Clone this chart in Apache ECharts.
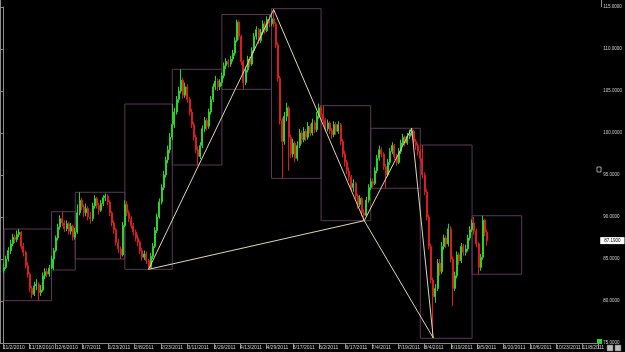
<!DOCTYPE html>
<html>
<head>
<meta charset="utf-8">
<title>Daily bars with XABCD pattern</title>
<script src="https://cdn.jsdelivr.net/npm/echarts/dist/echarts.min.js"></script>
<style>
  html, body { margin: 0; padding: 0; background: #000; }
  #chart { width: 625px; height: 352px; }
</style>
</head>
<body>
<div id="chart"></div>
<script>
// daily bars
const opens = [
  83.6, 84.0, 85.0, 86.0, 86.8, 87.6, 87.3, 87.9, 88.2, 86.5, 85.8, 84.2, 83.2, 81.5, 80.8,
  81.8, 82.0, 81.0, 81.3, 83.0, 83.5, 83.2, 83.9, 85.0, 86.0, 87.5, 88.8, 89.8, 89.3, 88.6,
  89.2, 88.3, 88.9, 87.6, 88.2, 90.5, 92.0, 91.2, 90.5, 91.0, 90.0, 89.8, 91.3, 92.2, 91.4,
  90.8, 91.6, 92.3, 92.5, 91.8, 90.5, 89.3, 88.5, 87.0, 86.2, 85.5, 89.0, 91.5, 90.5, 89.8,
  89.0, 88.2, 87.5, 87.0, 86.0, 85.2, 85.6, 84.8, 84.0, 85.3, 86.5, 88.4, 90.0, 91.8, 93.5,
  95.0, 96.8, 98.0, 99.5, 101.0, 102.5, 104.0, 105.0, 106.3, 104.5, 105.5, 104.0, 102.5, 101.0, 99.5,
  98.0, 97.2, 98.5, 100.5, 101.5, 100.8, 102.5, 104.0, 105.5, 106.2, 105.5, 106.0, 106.8, 108.0, 108.5,
  108.2, 108.8, 109.5, 111.0, 113.2, 111.5, 108.5, 106.0, 107.5, 108.8, 108.2, 109.8, 111.5, 112.3, 111.0,
  112.0, 113.0, 112.2, 113.5, 113.0, 113.6, 113.0, 110.5, 106.5, 101.5, 99.0, 102.0, 103.0, 99.5, 97.5,
  98.8, 97.0, 98.5, 100.0, 99.2, 100.2, 99.5, 100.8, 100.0, 101.2, 100.4, 102.0, 103.0, 102.2, 101.5,
  100.5, 101.2, 100.3, 99.8, 101.0, 100.2, 101.0, 99.0, 97.5, 96.5, 95.5, 94.8, 93.5, 94.0, 92.5,
  91.5, 92.2, 90.5, 90.2, 92.0, 93.5, 94.2, 94.0, 95.5, 97.0, 98.0, 97.5, 96.0, 95.0, 96.5,
  97.8, 98.5, 97.2, 96.5, 97.8, 98.8, 99.5, 98.8, 99.6, 100.0, 100.2, 99.0, 98.5, 97.8, 97.0,
  95.0, 93.0, 90.0, 86.5, 82.5, 80.5, 81.5, 84.5, 83.5, 86.5, 87.5, 86.8, 88.6, 85.0, 81.5,
  83.0, 85.5, 84.8, 86.5, 85.8, 86.2, 87.5, 88.5, 89.3, 88.3, 86.8, 84.0, 85.2, 89.6, 88.2
]
const closes = [
  84.0, 85.0, 86.0, 86.8, 87.6, 87.3, 87.9, 88.2, 86.5, 85.8, 84.2, 83.2, 81.5, 80.8, 81.8,
  82.0, 81.0, 81.3, 83.0, 83.5, 83.2, 83.9, 85.0, 86.0, 87.5, 88.8, 89.8, 89.3, 88.6, 89.2,
  88.3, 88.9, 87.6, 88.2, 90.5, 92.0, 91.2, 90.5, 91.0, 90.0, 89.8, 91.3, 92.2, 91.4, 90.8,
  91.6, 92.3, 92.5, 91.8, 90.5, 89.3, 88.5, 87.0, 86.2, 85.5, 89.0, 91.5, 90.5, 89.8, 89.0,
  88.2, 87.5, 87.0, 86.0, 85.2, 85.6, 84.8, 84.0, 85.3, 86.5, 88.4, 90.0, 91.8, 93.5, 95.0,
  96.8, 98.0, 99.5, 101.0, 102.5, 104.0, 105.0, 106.3, 104.5, 105.5, 104.0, 102.5, 101.0, 99.5, 98.0,
  97.2, 98.5, 100.5, 101.5, 100.8, 102.5, 104.0, 105.5, 106.2, 105.5, 106.0, 106.8, 108.0, 108.5, 108.2,
  108.8, 109.5, 111.0, 113.2, 111.5, 108.5, 106.0, 107.5, 108.8, 108.2, 109.8, 111.5, 112.3, 111.0, 112.0,
  113.0, 112.2, 113.5, 113.0, 113.6, 113.0, 110.5, 106.5, 101.5, 99.0, 102.0, 103.0, 99.5, 97.5, 98.8,
  97.0, 98.5, 100.0, 99.2, 100.2, 99.5, 100.8, 100.0, 101.2, 100.4, 102.0, 103.0, 102.2, 101.5, 100.5,
  101.2, 100.3, 99.8, 101.0, 100.2, 101.0, 99.0, 97.5, 96.5, 95.5, 94.8, 93.5, 94.0, 92.5, 91.5,
  92.2, 90.5, 90.2, 92.0, 93.5, 94.2, 94.0, 95.5, 97.0, 98.0, 97.5, 96.0, 95.0, 96.5, 97.8,
  98.5, 97.2, 96.5, 97.8, 98.8, 99.5, 98.8, 99.6, 100.0, 100.2, 99.0, 98.5, 97.8, 97.0, 95.0,
  93.0, 90.0, 86.5, 82.5, 80.5, 81.5, 84.5, 83.5, 86.5, 87.5, 86.8, 88.6, 85.0, 81.5, 83.0,
  85.5, 84.8, 86.5, 85.8, 86.2, 87.5, 88.5, 89.3, 88.3, 86.8, 84.0, 85.2, 89.6, 88.2, 87.19
]
const lows = [
  83.3, 83.8, 84.7, 85.6, 86.5, 86.9, 87.0, 87.6, 86.2, 85.3, 83.9, 82.8, 81.1, 80.3, 80.6,
  81.3, 80.04, 80.6, 81.1, 82.6, 82.8, 82.9, 83.8, 83.69, 85.8, 87.2, 88.5, 88.9, 88.2, 88.3,
  87.9, 87.9, 87.2, 87.3, 88.0, 90.2, 90.8, 90.0, 90.1, 89.6, 89.2, 89.5, 91.0, 91.0, 90.3,
  90.6, 91.3, 91.9, 91.4, 90.1, 88.9, 88.0, 86.6, 85.7, 85.0, 85.3, 88.8, 90.1, 89.4, 88.6,
  87.8, 87.1, 86.5, 85.6, 84.8, 84.9, 84.4, 83.77, 83.9, 85.0, 86.3, 88.1, 89.8, 91.5, 93.2,
  94.7, 96.4, 97.6, 99.2, 100.6, 102.2, 103.6, 104.7, 104.1, 104.2, 103.6, 102.1, 100.6, 99.1, 97.6,
  96.19, 96.9, 98.2, 100.1, 100.3, 100.5, 102.2, 103.7, 105.1, 105.0, 105.1, 105.6, 106.5, 107.6, 107.8,
  107.9, 108.5, 109.2, 110.8, 111.1, 108.1, 105.2, 105.7, 107.2, 107.8, 108.0, 109.5, 111.1, 110.6, 110.7,
  111.7, 111.8, 112.0, 112.6, 112.7, 112.6, 110.1, 106.1, 101.0, 94.6, 98.6, 101.4, 95.5, 97.0, 97.1,
  96.5, 96.7, 98.2, 98.7, 98.9, 99.0, 99.2, 99.6, 99.7, 100.0, 100.1, 101.7, 101.8, 101.1, 100.1,
  100.2, 99.9, 99.3, 99.5, 99.8, 99.9, 98.6, 97.1, 96.0, 95.1, 94.3, 93.1, 93.0, 92.1, 91.0,
  91.2, 90.1, 89.56, 90.0, 91.7, 93.2, 93.5, 93.8, 95.2, 96.7, 97.1, 95.6, 93.42, 94.8, 96.2,
  97.5, 96.8, 96.1, 96.3, 97.5, 98.5, 98.4, 98.6, 99.3, 99.7, 98.7, 98.0, 97.3, 96.6, 94.6,
  92.6, 89.6, 86.1, 82.1, 75.6, 79.8, 81.2, 83.0, 83.2, 86.1, 86.3, 86.5, 84.6, 79.4, 81.2,
  82.7, 84.3, 84.5, 85.4, 85.4, 85.9, 87.2, 88.2, 87.9, 86.4, 83.18, 83.6, 84.9, 87.7, 86.6
]
const highs = [
  84.5, 85.4, 86.4, 87.3, 88.0, 87.9, 88.4, 88.57, 88.3, 86.9, 86.0, 84.6, 83.4, 81.8, 82.3,
  82.6, 82.2, 81.9, 83.4, 83.9, 83.9, 84.3, 85.4, 86.3, 87.8, 89.2, 90.2, 90.63, 89.6, 89.6,
  89.4, 89.3, 89.1, 88.7, 91.5, 92.94, 92.3, 91.5, 91.6, 91.3, 90.6, 91.7, 92.6, 92.4, 91.7,
  92.0, 92.6, 92.8, 92.7, 92.0, 90.7, 89.6, 88.7, 87.4, 86.5, 89.4, 92.0, 91.9, 90.8, 90.1,
  89.3, 88.5, 87.9, 87.2, 86.3, 86.0, 85.9, 85.0, 85.7, 86.9, 88.8, 90.4, 92.2, 93.9, 95.5,
  97.2, 98.5, 100.0, 103.45, 103.0, 104.4, 105.5, 107.58, 106.6, 106.0, 105.8, 104.3, 102.9, 101.3, 99.8,
  98.4, 98.9, 100.9, 101.9, 101.8, 102.9, 104.4, 105.9, 106.8, 106.5, 106.4, 107.2, 108.4, 108.9, 108.8,
  109.2, 109.9, 111.4, 113.5, 113.4, 111.7, 108.7, 107.9, 109.2, 109.1, 110.2, 111.9, 112.7, 112.5, 112.4,
  113.4, 113.3, 113.9, 114.1, 114.0, 114.7, 113.2, 110.8, 106.8, 101.8, 102.5, 103.6, 103.2, 99.8, 99.3,
  99.0, 99.0, 100.5, 100.3, 100.7, 100.5, 101.3, 101.1, 101.7, 101.5, 102.5, 103.5, 103.3, 103.25, 101.8,
  101.6, 101.4, 100.6, 101.4, 101.3, 101.4, 101.2, 99.3, 97.9, 96.8, 95.9, 95.0, 94.5, 94.2, 92.8,
  92.6, 92.4, 90.9, 92.4, 93.9, 94.6, 94.6, 95.9, 97.4, 98.5, 98.3, 97.7, 96.3, 96.9, 98.2,
  98.9, 98.7, 97.5, 98.2, 99.2, 99.9, 99.7, 100.0, 100.4, 100.56, 100.4, 99.3, 98.8, 98.1, 98.57,
  95.3, 93.3, 90.3, 86.8, 82.8, 82.0, 85.0, 85.0, 87.0, 87.9, 87.8, 89.2, 88.9, 85.3, 83.5,
  85.9, 85.8, 86.9, 86.8, 86.7, 87.9, 88.9, 89.7, 90.0, 88.6, 87.0, 85.6, 90.15, 89.8, 88.5
]

// date labels along the bottom, one every 12 bars
const tickLabels = [
  '11/2/2010', '11/18/2010', '12/6/2010', '1/7/2011', '1/23/2011', '2/8/2011', '2/23/2011',
  '3/11/2011', '3/29/2011', '4/13/2011', '4/29/2011', '5/17/2011', '6/2/2011', '6/17/2011',
  '7/4/2011', '7/19/2011', '8/4/2011', '8/19/2011', '9/5/2011', '9/20/2011', '10/6/2011',
  '10/23/2011', '11/8/2011'
]

// monthly range boxes (bar from, bar to, high, low)
const boxStart = [0, 22, 33, 56, 78, 101, 124, 147, 170, 193, 217]
const boxEnd = [22, 33, 56, 78, 101, 124, 147, 170, 193, 217, 240]
const boxHigh = [88.57, 90.63, 92.94, 103.45, 107.58, 114.1, 114.8, 103.25, 100.56, 98.57, 90.15]
const boxLow = [80.04, 83.69, 85.0, 83.77, 96.19, 105.2, 94.6, 89.56, 93.42, 75.56, 83.18]

// pattern pivots X, A, B, C, D and the legs joining them
const pivotBar = [67, 125, 167, 189, 199]
const pivotPrice = [83.77, 114.7, 89.56, 100.56, 75.6]
const pivotLegs = [[0, 1], [1, 2], [2, 3], [3, 4], [0, 2], [2, 4]]

const slotCount = 276   // bar slots across the plot, incl. empty future space
const plotWidth = 601
const labelStep = 26.6  // px between date labels

const GREEN = '#27d427'
const RED = '#dc1c1c'
const AXIS = '#8a8a8a'
const TEXT = '#cfcfcf'

const slots = Array.from({ length: slotCount }, (_, i) => String(i))
const lastClose = closes[closes.length - 1]

const chart = echarts.init(document.getElementById('chart'))

const option = {
  backgroundColor: '#000',
  animation: false,
  grid: { left: 0, right: 625 - plotWidth, top: 7, bottom: 9 },
  xAxis: [
    { type: 'category', data: slots, show: false },
    {
      type: 'value',
      min: 0,
      max: plotWidth / labelStep,
      interval: 1,
      position: 'bottom',
      axisLine: { show: true, lineStyle: { color: AXIS } },
      axisTick: { show: true, length: 6, lineStyle: { color: AXIS } },
      axisLabel: {
        color: TEXT,
        fontSize: 5,
        fontFamily: 'Liberation Sans, Arial, sans-serif',
        align: 'left',
        margin: 2,
        formatter: (v) => tickLabels[v] || '',
      },
      splitLine: { show: false },
    },
  ],
  yAxis: {
    type: 'value',
    position: 'right',
    min: 75,
    max: 115,
    interval: 5,
    axisLine: { show: true, lineStyle: { color: AXIS } },
    axisTick: { show: true, inside: true, length: 3, lineStyle: { color: AXIS } },
    axisLabel: {
      color: TEXT,
      fontSize: 4.5,
      fontFamily: 'Liberation Sans, Arial, sans-serif',
      margin: 5,
      formatter: (v) => v.toFixed(4),
    },
    splitLine: { show: false },
  },
  series: [
    {
      type: 'candlestick',
      xAxisIndex: 0,
      clip: false,
      data: closes.map((c, i) => [opens[i], c, lows[i], highs[i]]),
      barWidth: 1.5,
      itemStyle: {
        color: GREEN,
        color0: RED,
        borderColor: GREEN,
        borderColor0: RED,
        borderWidth: 1,
      },
      markArea: {
        silent: true,
        itemStyle: { color: 'rgba(0,0,0,0)', borderColor: '#5b3858', borderWidth: 1 },
        data: boxStart.map((s, k) => [
          { xAxis: s, yAxis: boxHigh[k] },
          { xAxis: boxEnd[k], yAxis: boxLow[k] },
        ]),
      },
      markLine: {
        silent: true,
        symbol: ['none', 'none'],
        label: { show: false },
        lineStyle: { color: '#e0d8b0', width: 1, type: 'solid' },
        data: [
          ...pivotLegs.map(([a, b]) => [
            { coord: [pivotBar[a], pivotPrice[a]] },
            { coord: [pivotBar[b], pivotPrice[b]] },
          ]),
          {
            // last price tag on the scale, the line itself stays invisible
            yAxis: lastClose,
            lineStyle: { color: 'rgba(0,0,0,0)' },
            label: {
              show: true,
              opacity: 1,
              position: 'end',
              distance: 2,
              formatter: () => lastClose.toFixed(4),
              color: '#000',
              backgroundColor: '#fff',
              fontSize: 4.5,
              fontFamily: 'Liberation Sans, Arial, sans-serif',
              padding: [1, 4],
            },
          },
        ],
      },
    },
  ],
  graphic: [
    // left frame and top of the price scale
    { type: 'line', shape: { x1: 0.5, y1: 0, x2: 0.5, y2: 343 }, style: { stroke: AXIS } },
    { type: 'line', shape: { x1: 601.5, y1: 0, x2: 601.5, y2: 7 }, style: { stroke: AXIS } },
    // small widgets of the charting app
    { type: 'rect', shape: { x: 597, y: 167, width: 4, height: 5 }, style: { fill: '#000', stroke: '#ddd', lineWidth: 0.7 } },
    { type: 'rect', shape: { x: 597, y: 339, width: 5, height: 5 }, style: { fill: '#22dd22' } },
    { type: 'rect', shape: { x: 607, y: 345, width: 6, height: 6 }, style: { fill: '#bbb', stroke: '#666', lineWidth: 0.5 } },
    { type: 'rect', shape: { x: 615, y: 345, width: 6, height: 6 }, style: { fill: '#bbb', stroke: '#666', lineWidth: 0.5 } },
  ],
}

chart.setOption(option)
</script>
</body>
</html>
